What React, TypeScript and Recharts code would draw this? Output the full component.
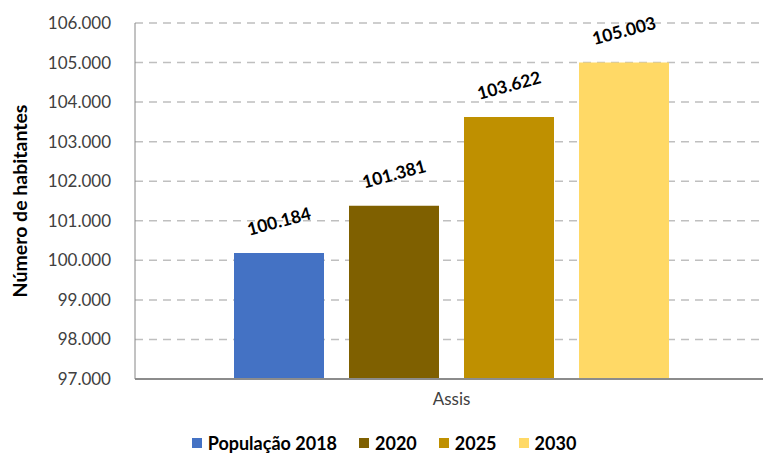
import { Bar, BarChart, CartesianGrid, LabelList, Legend, XAxis, YAxis } from 'recharts';

const categories = ['Assis'];
const seriesNames = ['População 2018', '2020', '2025', '2030'];
const pop2018 = [100184];
const pop2020 = [101381];
const pop2025 = [103622];
const pop2030 = [105003];
const yTicks = [97000, 98000, 99000, 100000, 101000, 102000, 103000, 104000, 105000, 106000];

const COLORS = ['#4472C4', '#7F6000', '#BF9000', '#FFD966'];
const KEYS = ['p2018', 'p2020', 'p2025', 'p2030'];

const data = categories.map((name, i) => ({
  name,
  p2018: pop2018[i],
  p2020: pop2020[i],
  p2025: pop2025[i],
  p2030: pop2030[i],
}));

const fmt = (v: number | string) => String(v).replace(/\B(?=(\d{3})+(?!\d))/g, '.');

function RotatedLabel(props: any) {
  const { x, y, width, value } = props;
  const cx = Number(x) + Number(width) / 2;
  const cy = Number(y) - 32;
  return (
    <text
      x={cx}
      y={cy}
      textAnchor="middle"
      dominantBaseline="central"
      transform={`rotate(-15, ${cx}, ${cy})`}
      fontSize={17.5}
      fontWeight={700}
      fill="#000"
    >
      {fmt(value)}
    </text>
  );
}

function LegendContent() {
  return (
    <div style={{ display: 'flex', justifyContent: 'center', gap: 22 }}>
      {seriesNames.map((s, i) => (
        <div key={s} style={{ display: 'flex', alignItems: 'center', gap: 6 }}>
          <span style={{ width: 10, height: 10, background: COLORS[i], display: 'inline-block' }} />
          <span style={{ fontSize: 18, fontWeight: 700, color: '#000', lineHeight: '22px' }}>{s}</span>
        </div>
      ))}
    </div>
  );
}

export default function App() {
  return (
    <div
      style={{
        position: 'absolute',
        left: 0,
        top: 0,
        width: 763,
        height: 455,
        overflow: 'hidden',
        background: '#fff',
        fontFamily: 'Lato, "Open Sans", sans-serif',
      }}
    >
      <BarChart
        width={768}
        height={455}
        data={data}
        margin={{ top: 23, right: 0, left: 0, bottom: 1 }}
        barSize={90}
        barGap={25}
      >
        <CartesianGrid vertical={false} stroke="#bfbfbf" strokeWidth={1.5} strokeDasharray="8 6" />
        <XAxis
          dataKey="name"
          height={53}
          tickLine={false}
          tickMargin={8}
          axisLine={{ stroke: '#8c8c8c', strokeWidth: 2 }}
          tick={{ fontSize: 17, fill: '#404040' }}
        />
        <YAxis
          width={135}
          domain={[97000, 106000]}
          ticks={yTicks}
          allowDataOverflow
          tickFormatter={fmt}
          tickLine={false}
          tickMargin={18}
          axisLine={{ stroke: '#868686', strokeWidth: 1 }}
          tick={{ fontSize: 17, fill: '#404040' }}
          label={{
            value: 'Número de habitantes',
            angle: -90,
            position: 'center',
            dx: -47,
            fontSize: 19.5,
            fontWeight: 700,
            fill: '#000',
          }}
        />
        <Legend verticalAlign="bottom" height={22} content={<LegendContent />} />
        {KEYS.map((k, i) => (
          <Bar key={k} dataKey={k} name={seriesNames[i]} fill={COLORS[i]} isAnimationActive={false}>
            <LabelList dataKey={k} content={<RotatedLabel />} />
          </Bar>
        ))}
      </BarChart>
    </div>
  );
}
